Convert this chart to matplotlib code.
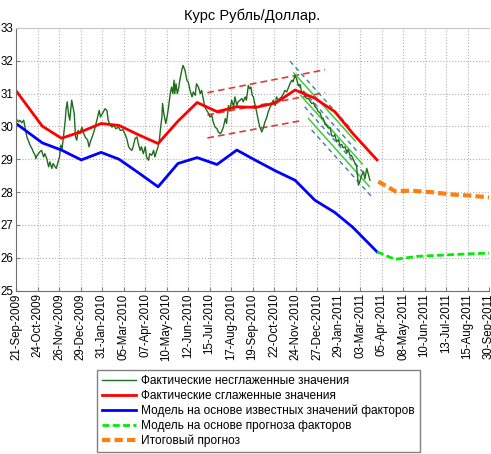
import numpy as np
import matplotlib
matplotlib.use('Agg')
import matplotlib.pyplot as plt
import matplotlib.dates as mdates

plt.rcParams['font.family'] = ['Liberation Sans', 'DejaVu Sans']

start = np.datetime64('2009-09-21')
end = np.datetime64('2011-09-30')

tick_labels = ['21-Sep-2009', '24-Oct-2009', '26-Nov-2009', '29-Dec-2009', '31-Jan-2010',
               '05-Mar-2010', '07-Apr-2010', '10-May-2010', '12-Jun-2010', '15-Jul-2010',
               '17-Aug-2010', '19-Sep-2010', '22-Oct-2010', '24-Nov-2010', '27-Dec-2010',
               '29-Jan-2011', '03-Mar-2011', '05-Apr-2011', '08-May-2011', '10-Jun-2011',
               '13-Jul-2011', '15-Aug-2011', '30-Sep-2011']

# фактический курс (дни от 21-Sep-2009)
green_days = [0, 4, 6, 9, 12, 14, 17, 19, 22, 25, 27, 30, 31, 33, 37, 40, 43, 45, 48, 51,
              53, 56, 58, 61, 63, 65, 68, 70, 72, 74, 77, 78, 80, 82, 84, 87, 89, 91, 93, 95,
              97, 100, 103, 105, 108, 112, 114, 117, 120, 123, 127, 130, 132, 135, 139, 142, 144, 147, 150, 153,
              156, 160, 163, 167, 170, 173, 176, 178,
              181, 183, 186, 189, 191, 194, 196, 199, 202, 204, 207, 209, 212, 215, 217, 220, 222, 224, 226, 228,
              229, 231, 234, 236, 238, 241, 243, 245, 247, 248, 250, 252, 254, 256, 259, 261, 264, 267, 269, 272,
              275, 277, 280, 282, 285, 288, 290, 293, 295, 298, 301, 303, 306, 308, 311, 314, 316, 319, 321, 324,
              327, 329, 332, 334, 337, 340, 342, 345, 347, 350, 353, 355, 358,
              360, 363, 365, 367, 369, 371, 373, 376, 379, 381, 384, 386, 389, 392, 394, 397, 400, 402, 405, 407,
              410, 412, 415, 418, 420, 423, 426, 428, 431, 433, 436,
              439, 441, 444, 446, 449, 452, 454, 457, 459, 462, 465, 467, 470, 472, 475, 478, 480, 483, 485, 488,
              491, 493, 496, 498, 501, 504, 506, 509, 511, 514, 517, 519, 522, 524, 527, 530, 532, 535, 537, 540,
              543, 545, 548, 551, 553]
green_vals = [30.24, 30.14, 30.19, 30.11, 30.19, 29.98, 29.68, 29.58, 29.43, 29.32, 29.22, 29.12, 29.02, 29.12, 29.22,
              29.27, 29.07, 29.17, 29.02, 28.77, 28.92, 28.72, 28.87, 28.77, 28.72, 28.87, 29.07, 29.43, 29.32, 29.68,
              30.19, 30.49, 30.75, 30.39, 30.19, 30.80, 30.59, 30.39, 29.68, 29.58, 29.88, 29.78, 29.98, 29.83, 29.68,
              29.58, 29.38, 29.58, 29.73, 29.93, 30.24, 30.49, 30.29, 30.39, 30.54, 30.49, 30.19, 30.04, 29.98, 30.04,
              29.93, 29.98, 29.88, 29.90, 29.78, 29.63, 29.38, 29.32,
              29.27, 29.38, 29.63, 29.68, 29.48, 29.27, 29.38, 29.17, 29.38, 29.07, 28.97, 29.17, 29.12, 29.27, 29.07,
              29.27, 29.38, 29.58, 29.98, 30.29, 30.70, 30.39, 30.09, 30.29, 30.54, 31.00, 31.20, 31.00, 31.41, 31.00,
              31.30, 31.00, 31.15, 31.41, 31.71, 31.86, 31.71, 31.41, 31.36, 31.10, 30.90, 31.05, 30.95, 31.30, 31.20,
              31.00, 31.10, 30.80, 30.59, 30.49, 30.39, 30.29, 30.34, 30.14, 29.98, 29.93, 29.83, 29.78, 29.83, 29.98,
              30.24, 30.09, 30.64, 30.49, 30.80, 30.59, 30.90, 30.64, 30.75, 30.80, 30.85, 30.75, 30.90,
              30.80, 31.25, 31.15, 31.20, 30.95, 30.90, 30.70, 30.44, 30.14, 29.98, 29.83, 29.93, 30.14, 30.29, 30.44,
              30.59, 30.70, 30.80, 30.64, 30.90, 30.80, 30.85, 30.90, 31.00, 31.10, 31.05, 31.20, 31.30, 31.41, 31.36,
              31.56,
              31.41, 31.25, 31.28, 31.05, 31.05, 30.90, 30.85, 30.85, 30.78, 30.70, 30.72, 30.60, 30.55, 30.45, 30.42,
              30.25, 30.25, 30.05, 30.04, 29.95, 29.96, 29.72, 29.70, 29.75, 29.53, 29.60, 29.43, 29.45, 29.35, 29.38,
              29.20, 29.30, 29.10, 29.12, 29.00, 28.85, 28.80, 28.21, 28.31, 28.51, 28.62, 28.40, 28.72, 28.50, 28.36]

red_dates = ['2009-09-21', '2009-11-01', '2009-12-01', '2010-01-01', '2010-02-01', '2010-03-01', '2010-04-01',
             '2010-05-01', '2010-06-01', '2010-07-01', '2010-08-01', '2010-09-01', '2010-10-01', '2010-11-01',
             '2010-12-01', '2011-01-01', '2011-02-01', '2011-03-01', '2011-04-08']
red_vals = [31.09, 30.01, 29.64, 29.84, 30.09, 30.03, 29.74, 29.48, 30.16, 30.73, 30.45, 30.60, 30.58, 30.72,
            31.11, 30.86, 30.45, 29.79, 28.98]

blue_dates = red_dates
blue_vals = [30.09, 29.50, 29.28, 28.98, 29.21, 29.00, 28.58, 28.16, 28.87, 29.05, 28.84, 29.28, 28.96, 28.64,
             28.36, 27.75, 27.38, 26.93, 26.18]

fcast_dates = ['2011-04-08', '2011-05-06', '2011-06-10', '2011-07-10', '2011-08-10', '2011-09-30']
fcast_vals = [26.18, 25.95, 26.04, 26.07, 26.10, 26.14]

final_dates = ['2011-04-10', '2011-05-06', '2011-06-01', '2011-07-01', '2011-08-01', '2011-09-01', '2011-09-30']
final_vals = [28.32, 28.03, 28.04, 28.00, 27.93, 27.89, 27.84]

# восходящий канал
rise_start_day = 299
rise_end_days = [483, 483, 444]
rise_start_vals = [31.03, 30.35, 29.65]
rise_end_vals = [31.73, 31.03, 30.17]

# нисходящий канал
fall_start_days = [428, 434, 440, 445, 451, 457, 462]
fall_end_days = [524, 530, 535, 541, 546, 552, 558]
fall_start_vals = [31.99, 31.63, 31.28, 30.94, 30.60, 30.24, 29.89]
fall_end_vals = [29.91, 29.56, 29.20, 28.86, 28.52, 28.17, 27.81]

labels = ['Фактические несглаженные значения', 'Фактические сглаженные значения',
          'Модель на основе известных значений факторов', 'Модель на основе прогноза факторов',
          'Итоговый прогноз']


def d(lst):
    return np.array(lst, dtype='datetime64[D]')


def off(days):
    return start + np.array(days, dtype='timedelta64[D]')


fig = plt.figure(figsize=(4.91, 4.54), dpi=100)
ax = fig.add_axes([16 / 491, 163.5 / 454, 473 / 491, 262.5 / 454])

for i in range(3):
    ax.plot(off([rise_start_day, rise_end_days[i]]), [rise_start_vals[i], rise_end_vals[i]],
            color='#e03a3a', lw=1.2, dashes=(4, 2.5))
for i in range(len(fall_start_days)):
    xs = off([fall_start_days[i], fall_end_days[i]])
    ys = [fall_start_vals[i], fall_end_vals[i]]
    if i % 2 == 0:
        ax.plot(xs, ys, color='#5a7fae', lw=1.1, dashes=(3, 2.5))
    else:
        ax.plot(xs, ys, color='#3ccc3c', lw=1.1)

ax.plot(off(green_days), green_vals, color='#1e6e1e', lw=1.0, label=labels[0])
ax.plot(d(red_dates), red_vals, color='red', lw=2, label=labels[1])
ax.plot(d(blue_dates), blue_vals, color='blue', lw=2, label=labels[2])
ax.plot(d(fcast_dates), fcast_vals, color='#00ee00', lw=2, dashes=(2.5, 1.2), label=labels[3])
ax.plot(d(final_dates), final_vals, color='#ff7f0e', lw=3, dashes=(2, 1), label=labels[4])

ax.set_ylim(25, 33)
ax.set_yticks(range(25, 34))
x0 = mdates.date2num(start)
x1 = mdates.date2num(end)
ax.set_xlim(x0, x1)
ax.set_xticks(np.linspace(x0, x1, len(tick_labels)))
ax.set_xticklabels(tick_labels, rotation=90)
ax.tick_params(axis='both', labelsize=8.3, direction='in', length=3, color='#808080', pad=2)
ax.grid(True, linestyle=':', color='#b0b0b0', lw=0.8)
ax.set_axisbelow(True)
ax.spines['right'].set_visible(False)
ax.spines['top'].set_color('#c8c8c8')
ax.spines['left'].set_color('#707070')
ax.spines['bottom'].set_color('#707070')

ax.set_title('Курс Рубль/Доллар.', fontsize=10.5, pad=6)

handles, _ = ax.get_legend_handles_labels()
fig.legend(handles, labels, loc='upper left', bbox_to_anchor=(97 / 491, 1 - 370 / 454),
           bbox_transform=fig.transFigure, borderaxespad=0, fontsize=8.6, fancybox=False,
           edgecolor='#808080', framealpha=1, borderpad=0.45, labelspacing=0.22,
           handlelength=2.8, handletextpad=0.4)

fig.savefig('out.png', dpi=100)
